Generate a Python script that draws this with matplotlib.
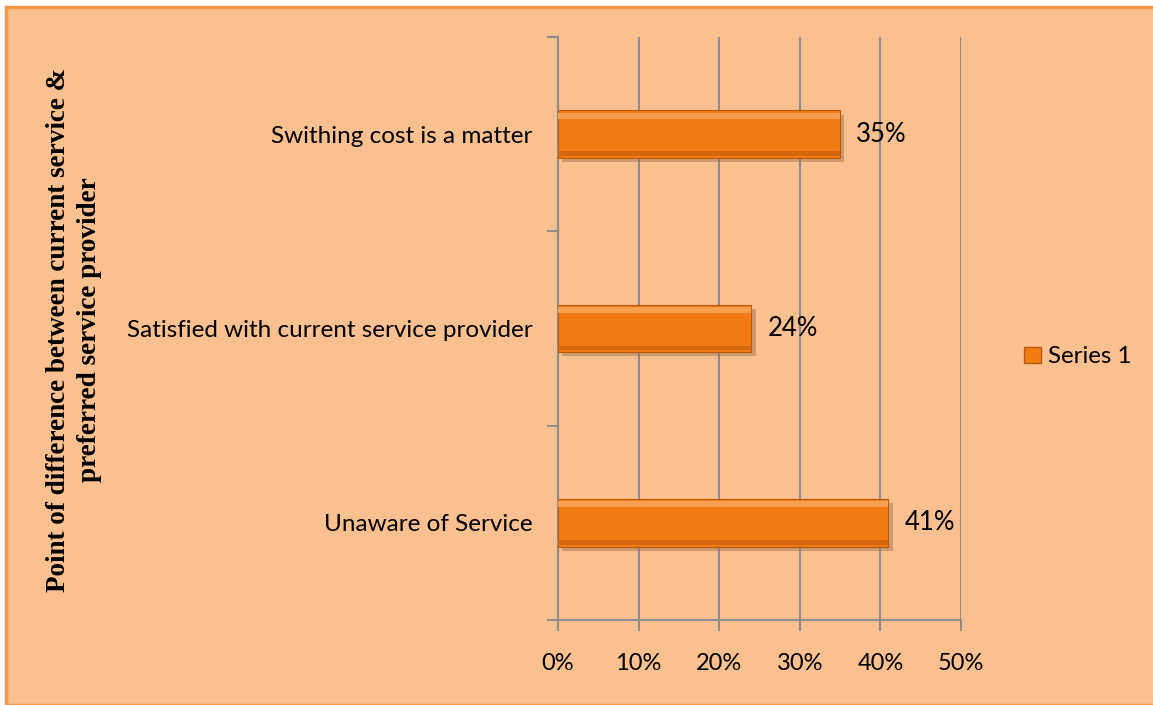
import matplotlib
matplotlib.use("Agg")
import matplotlib.pyplot as plt
import matplotlib.patheffects as pe
from matplotlib.patches import Rectangle, Patch
from matplotlib.ticker import FuncFormatter, MultipleLocator

# Antworten auf die Frage nach dem Anbieterwechsel
kategorien = ["Unaware of Service", "Satisfied with current service provider", "Swithing cost is a matter"]
anteile = [41, 24, 35]
reihe = "Series 1"
y_titel = "Point of difference between current service &\npreferred service provider"

hintergrund = "#FAC090"
rahmen = "#F79646"
balken_farbe = "#F27A12"
gitter = "#8C8C8C"
schrift = ["Lato", "DejaVu Sans"]

fig = plt.figure(figsize=(11.53, 7.05), dpi=100)
fig.patch.set_facecolor("white")

# Diagrammbereich mit orangem Rahmen
W, H = 1153, 705
fig.patches.append(Rectangle((6 / W, 0), 1.0, 1 - 7 / H, transform=fig.transFigure,
                             facecolor=hintergrund, edgecolor=rahmen, linewidth=2.5,
                             zorder=-10))

ax = fig.add_axes([558 / W, 1 - 620 / H, (961 - 558) / W, (620 - 37) / H])
ax.set_facecolor("none")

pos = list(range(len(kategorien)))
balken = ax.barh(pos, anteile, height=0.245, color=balken_farbe,
                 edgecolor="#B65A10", linewidth=0.8, zorder=3)
for b in balken:
    b.set_path_effects([pe.SimplePatchShadow(offset=(3, -3), shadow_rgbFace="#9A6A45", alpha=0.45),
                        pe.Normal()])

# Abschrägung: heller Streifen oben, dunkler unten
ax.barh([p + 0.095 for p in pos], anteile, height=0.03, color="#F8A050", linewidth=0, zorder=4)
ax.barh([p - 0.1 for p in pos], anteile, height=0.025, color="#D4660E", linewidth=0, zorder=4)

for p, v in zip(pos, anteile):
    ax.text(v + 2, p, f"{v}%", va="center", ha="left", fontsize=18.5, family=schrift, zorder=5)

ax.set_xlim(0, 50)
ax.set_ylim(-0.5, len(kategorien) - 0.5)
ax.xaxis.set_major_locator(MultipleLocator(10))
ax.xaxis.set_major_formatter(FuncFormatter(lambda x, _: f"{x:.0f}%"))
ax.grid(axis="x", color=gitter, linewidth=1.5, zorder=0)
ax.set_axisbelow(True)

ax.set_yticks([p - 0.5 for p in pos] + [len(kategorien) - 0.5])
ax.set_yticklabels([])
ax.set_yticks(pos, minor=True)
ax.set_yticklabels(kategorien, minor=True, fontsize=17.5, family=schrift)
ax.tick_params(axis="y", which="minor", length=0, pad=18.5)
ax.tick_params(axis="y", which="major", length=8, width=1.5, color=gitter)
ax.tick_params(axis="x", length=8, width=1.5, color=gitter, labelsize=17, pad=16)
for lab in ax.get_xticklabels():
    lab.set_family(schrift)

for s in ["top", "right"]:
    ax.spines[s].set_visible(False)
for s in ["left", "bottom"]:
    ax.spines[s].set_color(gitter)
    ax.spines[s].set_linewidth(1.5)

fig.text(74 / W, 1 - 330 / H, y_titel, rotation=90, ha="center", va="center",
         fontsize=19.5, fontweight="bold", family="Liberation Serif", linespacing=1.35)

fig.legend(handles=[Patch(facecolor=balken_farbe, edgecolor="#B65A10", label=reihe)],
           loc="center left", bbox_to_anchor=(1024 / W, 1 - 357 / H), frameon=False,
           prop={"family": schrift, "size": 17.3}, handlelength=0.7, handleheight=0.7,
           handletextpad=0.3, borderpad=0, borderaxespad=0)

fig.savefig("out.png", dpi=100)
